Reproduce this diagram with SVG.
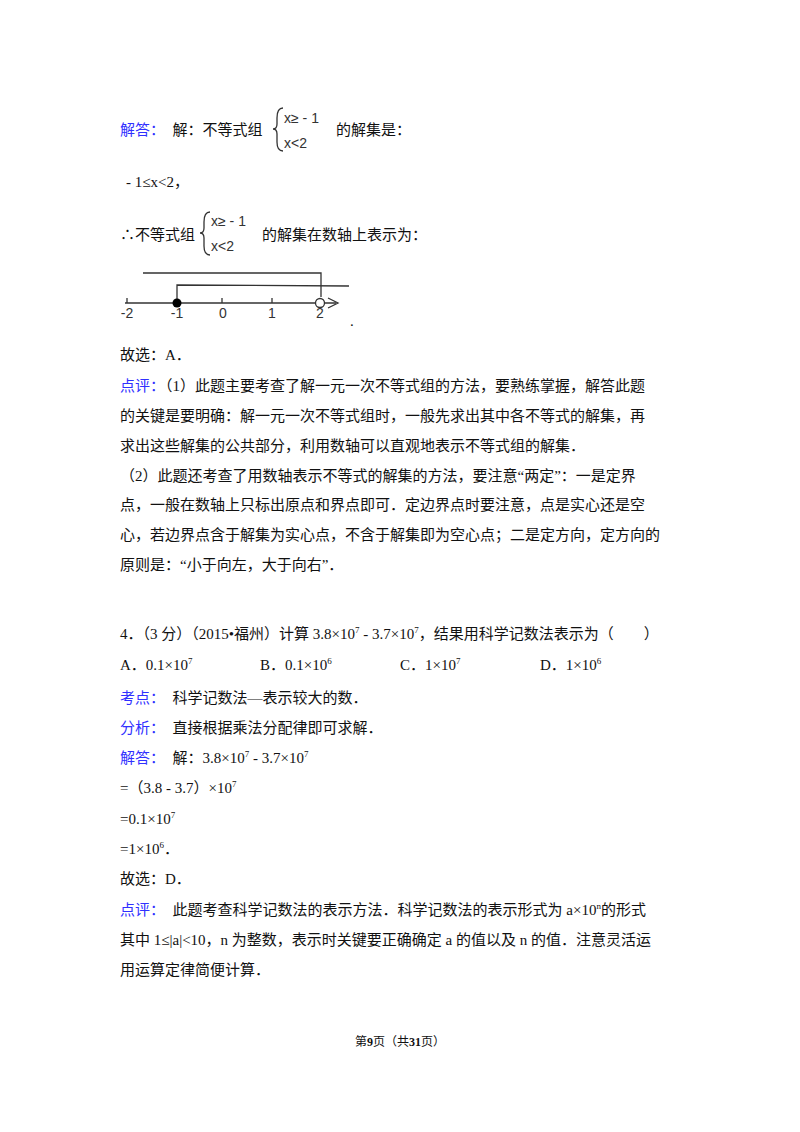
<svg xmlns="http://www.w3.org/2000/svg" width="800" height="1132" viewBox="0 0 800 1132">
<style>
text{font-family:"Liberation Serif","Noto Sans CJK SC",serif;font-size:15px;fill:#111}
.b{fill:#3030ff}
.s{font-size:9px}
.m{font-family:"Liberation Sans","Noto Sans CJK SC",sans-serif;font-size:14px;fill:#333}
.ln{stroke:#333;stroke-width:1.3;fill:none}
</style>
<rect width="800" height="1132" fill="#fff"/>
<g id="solution1">
<text x="120" y="135"><tspan class="b">解答：</tspan>　解：不等式组</text>
<path class="ln" d="M283,108 Q277,108 277,118 L277,124 Q277,129 273,129 Q277,129 277,134 L277,142 Q277,151 283,151"/>
<text class="m" x="284" y="123">x≥ - 1</text>
<text class="m" x="284" y="148">x&lt;2</text>
<text x="336" y="135">的解集是：</text>
<text x="126" y="187">- 1≤x&lt;2，</text>
<text x="120" y="240">∴不等式组</text>
<path class="ln" d="M210,212 Q204,212 204,222 L204,228 Q204,233 200,233 Q204,233 204,238 L204,246 Q204,255 210,255"/>
<text class="m" x="211" y="226">x≥ - 1</text>
<text class="m" x="211" y="251">x&lt;2</text>
<text x="262" y="240">的解集在数轴上表示为：</text>
</g>
<g id="numberline">
<line class="ln" x1="125" y1="303" x2="336" y2="303"/>
<path class="ln" d="M328,298 L338,303 L328,308"/>
<g class="ln"><line x1="127" y1="298" x2="127" y2="303"/><line x1="222" y1="298" x2="222" y2="303"/><line x1="272" y1="298" x2="272" y2="303"/></g>
<path class="ln" d="M143,273 L321,273 L321,297"/>
<path class="ln" d="M177,302 L177,285 L349,286"/>
<circle cx="177" cy="303" r="4.5" fill="#000"/>
<circle cx="320" cy="303" r="4.5" fill="#fff" stroke="#333" stroke-width="1.3"/>
<text class="m" x="127" y="318" text-anchor="middle">-2</text>
<text class="m" x="177" y="318" text-anchor="middle">-1</text>
<text class="m" x="223" y="318" text-anchor="middle">0</text>
<text class="m" x="272" y="318" text-anchor="middle">1</text>
<text class="m" x="320" y="318" text-anchor="middle">2</text>
<text x="350" y="326">.</text>
</g>
<g id="comment1">
<text x="120" y="360">故选：A．</text>
<text x="120" y="391"><tspan class="b">点评：</tspan>（1）此题主要考查了解一元一次不等式组的方法，要熟练掌握，解答此题</text>
<text x="120" y="421">的关键是要明确：解一元一次不等式组时，一般先求出其中各不等式的解集，再</text>
<text x="120" y="451">求出这些解集的公共部分，利用数轴可以直观地表示不等式组的解集．</text>
<text x="120" y="481">（2）此题还考查了用数轴表示不等式的解集的方法，要注意“两定”：一是定界</text>
<text x="120" y="510">点，一般在数轴上只标出原点和界点即可．定边界点时要注意，点是实心还是空</text>
<text x="120" y="540">心，若边界点含于解集为实心点，不含于解集即为空心点；二是定方向，定方向的</text>
<text x="120" y="570">原则是：“小于向左，大于向右”．</text>
</g>
<g id="question4">
<text x="120" y="639">4．（3 分）（2015•福州）计算 3.8×10<tspan class="s" dy="-6">7</tspan><tspan dy="6"> - 3.7×10</tspan><tspan class="s" dy="-6">7</tspan><tspan dy="6">，结果用科学记数法表示为（　　）</tspan></text>
<text x="120" y="670">A．0.1×10<tspan class="s" dy="-6">7</tspan></text>
<text x="260" y="670">B．0.1×10<tspan class="s" dy="-6">6</tspan></text>
<text x="400" y="670">C．1×10<tspan class="s" dy="-6">7</tspan></text>
<text x="540" y="670">D．1×10<tspan class="s" dy="-6">6</tspan></text>
<text x="120" y="703"><tspan class="b">考点：</tspan>　科学记数法—表示较大的数．</text>
<text x="120" y="733"><tspan class="b">分析：</tspan>　直接根据乘法分配律即可求解．</text>
<text x="120" y="763"><tspan class="b">解答：</tspan>　解：3.8×10<tspan class="s" dy="-6">7</tspan><tspan dy="6"> - 3.7×10</tspan><tspan class="s" dy="-6">7</tspan></text>
<text x="120" y="793">=（3.8 - 3.7）×10<tspan class="s" dy="-6">7</tspan></text>
<text x="120" y="824">=0.1×10<tspan class="s" dy="-6">7</tspan></text>
<text x="120" y="854">=1×10<tspan class="s" dy="-6">6</tspan><tspan dy="6">．</tspan></text>
<text x="120" y="884">故选：D．</text>
<text x="120" y="915"><tspan class="b">点评：</tspan>　此题考查科学记数法的表示方法．科学记数法的表示形式为 a×10<tspan class="s" dy="-6">n</tspan><tspan dy="6">的形式</tspan></text>
<text x="120" y="945">其中 1≤|a|&lt;10，n 为整数，表示时关键要正确确定 a 的值以及 n 的值．注意灵活运</text>
<text x="120" y="975">用运算定律简便计算．</text>
</g>
<g id="footer">
<text x="400" y="1046" text-anchor="middle" style="font-size:12px">第<tspan font-weight="bold">9</tspan>页（共<tspan font-weight="bold">31</tspan>页）</text>
</g>
</svg>
